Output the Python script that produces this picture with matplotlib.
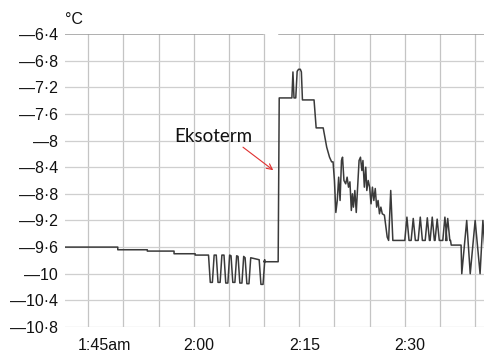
import numpy as np
import matplotlib
matplotlib.use("Agg")
import matplotlib.pyplot as plt
from matplotlib.transforms import ScaledTranslation

# time in minutes after 1:45, temperature in degC
t_slow = [-3.3, 4.2, 4.2, 8.4, 8.4, 12.2, 12.2, 15.2, 15.2, 16.8]
v_slow = [-9.60, -9.60, -9.64, -9.64, -9.66, -9.66, -9.70, -9.70, -9.72, -9.72]

dip_centres = [17.5, 18.6, 19.7, 20.7, 21.7, 22.7, 24.7]
dip_top = [-9.72, -9.72, -9.72, -9.73, -9.74, -9.76, -9.79]
dip_bottom = [-10.13, -10.13, -10.14, -10.13, -10.14, -10.15, -10.16]

t_peak = [24.95, 27.0, 27.15, 28.95, 29.1, 29.25, 29.5, 29.7, 29.9, 30.15, 30.3,
          30.45, 32.1, 32.4, 33.4, 33.9, 34.3, 34.6,
          34.8, 35.0, 35.2, 35.4, 35.6, 35.8, 36.0, 36.15, 36.35, 36.6, 36.8,
          37.0, 37.2, 37.4, 37.55, 37.7, 37.9, 38.1, 38.3, 38.5, 38.7, 38.9,
          39.05, 39.25, 39.45, 39.6, 39.8, 40.0, 40.2, 40.4, 40.6, 40.8, 41.0,
          41.2, 41.4, 41.6, 41.8, 42.1, 42.5, 42.7, 43.0, 43.3]
v_peak = [-9.82, -9.82, -7.36, -7.36, -6.97, -7.36, -7.36, -6.96, -6.93, -6.93, -6.97,
          -7.39, -7.39, -7.81, -7.81, -8.10, -8.25, -8.32,
          -8.32, -8.60, -9.08, -8.90, -8.55, -8.90, -8.30, -8.25, -8.60, -8.65, -8.55,
          -8.70, -8.62, -9.05, -8.80, -9.00, -8.75, -9.08, -8.70, -8.30, -8.25, -8.45,
          -8.30, -8.70, -8.40, -8.75, -8.60, -8.70, -8.95, -8.70, -8.90, -8.72, -9.00,
          -8.90, -9.10, -9.00, -9.10, -9.12, -9.45, -9.50, -8.75, -9.50]

spike_centres = [45.3, 46.2, 47.2, 48.2, 48.9, 49.6, 50.7, 51.1]
spike_base = -9.50
spike_top = [-9.15, -9.17, -9.15, -9.16, -9.15, -9.18, -9.15, -9.17]

t_end = [51.5, 51.6, 53.0, 53.1, 53.8, 54.3, 55.0, 55.7, 56.1, 56.5]
v_end = [-9.50, -9.57, -9.57, -10.00, -9.20, -10.00, -9.20, -10.00, -9.20, -9.80]

y_ticks = [-6.4, -6.8, -7.2, -7.6, -8.0, -8.4, -8.8, -9.2, -9.6, -10.0, -10.4, -10.8]
y_labels = ["—6·4", "—6·8", "—7·2", "—7·6", "—8", "—8·4", "—8·8", "—9·2",
            "—9·6", "—10", "—10·4", "—10·8"]
x_ticks = [0, 15, 30, 45]
x_labels = ["1:45am", "2:00", "2:15", "2:30"]

# assemble the trace
t = list(t_slow)
v = list(v_slow)
for c, top, bot in zip(dip_centres, dip_top, dip_bottom):
    t += [c - 0.4, c - 0.15, c + 0.15, c + 0.4]
    v += [top, bot, bot, top]
t += t_peak
v += v_peak
for c, top in zip(spike_centres, spike_top):
    t += [c - 0.3, c, c + 0.3]
    v += [spike_base, top, spike_base]
t += t_end
v += v_end

plt.rcParams['font.family'] = ['Liberation Sans', 'DejaVu Sans']
fig = plt.figure(figsize=(4.85, 3.56), dpi=100)
ax = fig.add_axes([65 / 485, 1 - 327 / 356, 420 / 485, 293 / 356])

ax.plot(t, v, color='#3a3a3a', lw=1.1)

ax.set_xlim(-3.3, 56.4)
ax.set_ylim(-10.8, -6.4)

# grid every 5 minutes / 0.4 degrees
for gx in np.arange(0, 60, 5):
    ax.axvline(gx, color='#c4c4c4', lw=0.9, zorder=0)
for gy in y_ticks[1:]:
    ax.axhline(gy, color='#cfcfcf', lw=0.9, zorder=0)
ax.axhline(-6.4, xmin=0, xmax=0.471, color='#9a9a9a', lw=1.1, zorder=1)
ax.axhline(-6.4, xmin=0.51, xmax=1, color='#9a9a9a', lw=1.1, zorder=1)

for s in ax.spines.values():
    s.set_visible(False)

ax.set_yticks(y_ticks)
ax.set_yticklabels(y_labels, fontsize=11.5, color='#111111')
ax.set_xticks(x_ticks)
ax.set_xticklabels(x_labels, fontsize=11.5, color='#111111')
ax.tick_params(axis='both', length=0)
ax.tick_params(axis='y', pad=5)
ax.tick_params(axis='x', pad=8)
for i, lab in enumerate(ax.get_xticklabels()):
    if i == 0:
        lab.set_horizontalalignment('left')
        lab.set_transform(lab.get_transform() + ScaledTranslation(-10 / 100, 0, fig.dpi_scale_trans))
    else:
        lab.set_transform(lab.get_transform() + ScaledTranslation(5 / 100, 0, fig.dpi_scale_trans))

fig.text(74 / 485, 1 - 20 / 356, "°C", fontsize=11.5, ha='center', va='center', color='#111111')

ax.text(23.4, -8.02, "Eksoterm", fontsize=13.5, family=['Lato', 'DejaVu Sans'],
        color='#111111', ha='right', va='baseline')
ax.annotate("", xy=(26.3, -8.445), xytext=(22.0, -8.10),
            arrowprops=dict(arrowstyle='->', color='#e03030', lw=0.8,
                            shrinkA=0, shrinkB=0))

fig.savefig("out.png", dpi=100)
